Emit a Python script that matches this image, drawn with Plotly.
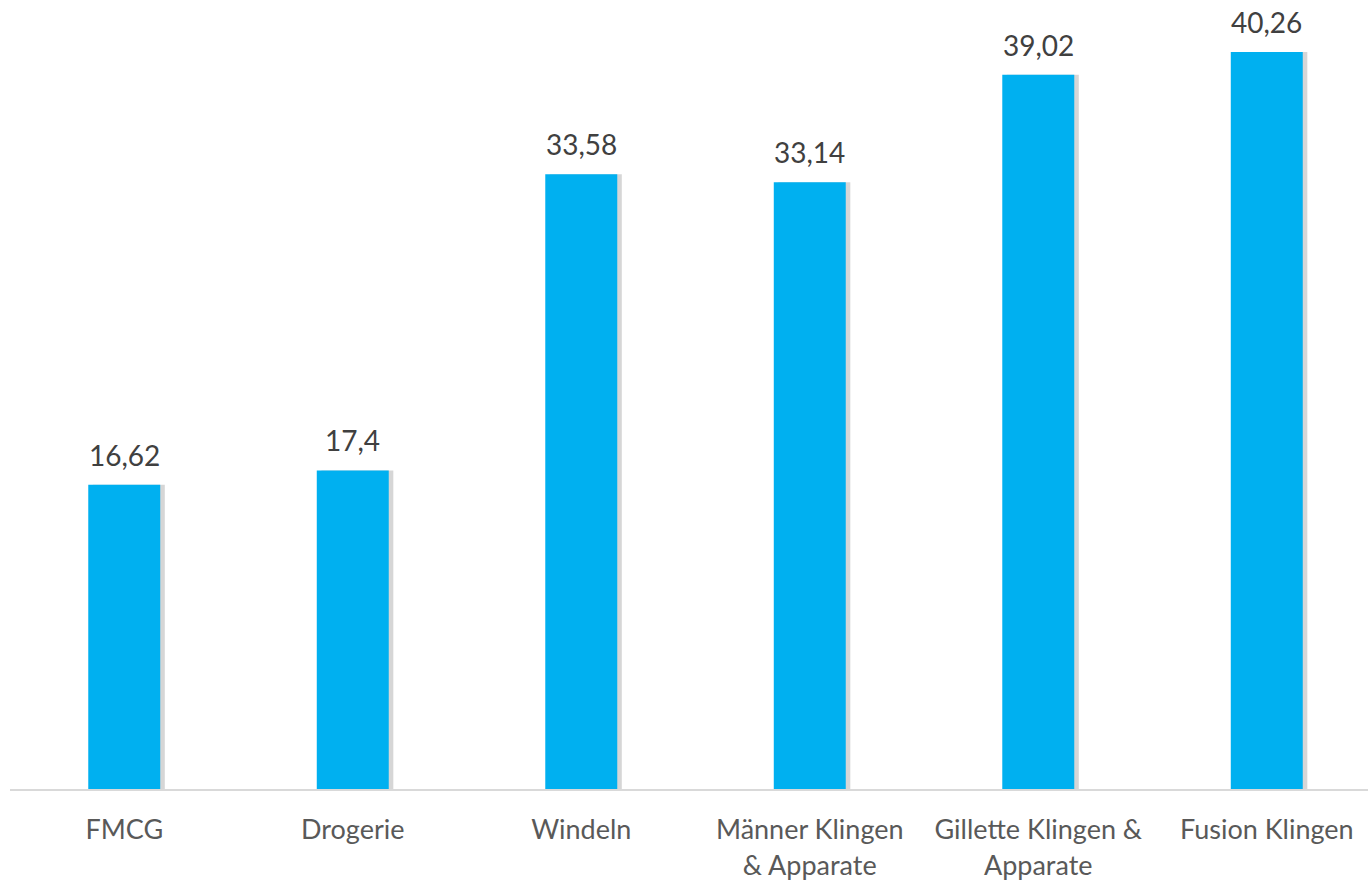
import plotly.graph_objects as go

categories = ["FMCG", "Drogerie", "Windeln", "Männer Klingen<br>& Apparate",
              "Gillette Klingen &<br>Apparate", "Fusion Klingen"]
values = [16.62, 17.4, 33.58, 33.14, 39.02, 40.26]
value_labels = ["16,62", "17,4", "33,58", "33,14", "39,02", "40,26"]

FONT = "Lato"
BAR_W = 0.315

fig = go.Figure()
# soft shadow behind each bar
fig.add_trace(go.Bar(
    x=categories, y=values, width=BAR_W, offset=-BAR_W / 2 + 0.02,
    marker=dict(color="rgba(0,0,0,0.16)", line=dict(width=0)),
    hoverinfo="skip", showlegend=False,
))
fig.add_trace(go.Bar(
    x=categories, y=values, width=BAR_W, offset=-BAR_W / 2,
    marker=dict(color="#00B0F0", line=dict(width=0)),
    showlegend=False,
))
for c, v, t in zip(categories, values, value_labels):
    fig.add_annotation(x=c, y=v, text=t, showarrow=False, yanchor="bottom",
                       yshift=11, font=dict(family=FONT, size=28, color="#404040"))

fig.update_layout(
    width=1368, height=881, barmode="overlay",
    margin=dict(l=10, r=0, t=0, b=92),
    paper_bgcolor="white", plot_bgcolor="white",
    xaxis=dict(range=[-0.5, 5.443], showgrid=False, zeroline=False,
               showline=True, linecolor="#D9D9D9", linewidth=2,
               ticks="", ticklabelstandoff=16,
               tickfont=dict(family=FONT, size=27, color="#595959")),
    yaxis=dict(range=[0, 43.1], visible=False, fixedrange=True),
)
fig.write_html("out.html")
